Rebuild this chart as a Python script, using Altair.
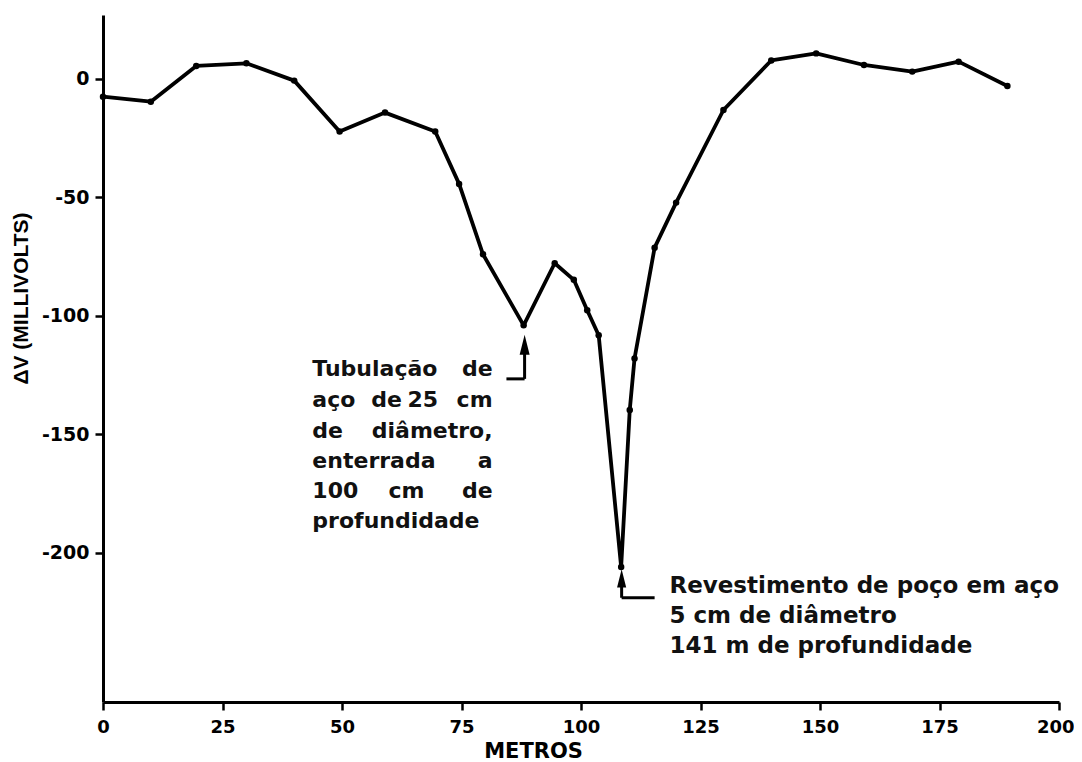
import altair as alt
import pandas as pd

# ---- data ----
metros = [0, 10, 19.5, 30, 40, 49.5, 59, 69.5, 74.5, 79.5, 88, 94.5, 98.5, 101.3,
          103.7, 108.4, 110.2, 111.2, 115.4, 119.9, 129.8, 139.8, 149.2, 159.2,
          169.3, 179, 189.2]
delta_v = [-7.5, -9.6, 5.5, 6.6, -0.7, -22.2, -14.2, -22.2, -44.3, -74, -104, -77.8,
           -84.8, -97.6, -108.2, -206, -139.7, -118, -71.2, -52.2, -13.1, 7.8, 10.8,
           5.9, 3.1, 7.3, -3.0]

x_ticks = [0, 25, 50, 75, 100, 125, 150, 175, 200]
y_ticks = [0, -50, -100, -150, -200]

# annotation 1 (justified block), words anchored in data space
ann1_left_text = ["Tubulação", "aço", "de", "25", "de", "enterrada", "100", "profundidade"]
ann1_left_x = [43.8, 43.8, 56.1, 63.7, 43.8, 43.8, 43.8, 43.8]
ann1_left_y = [-125.3, -138.4, -138.4, -138.4, -151.5, -164.1, -176.8, -189.5]
ann1_right_text = ["de", "cm", "diâmetro,", "a", "de"]
ann1_right_x = [81.5, 81.5, 81.5, 81.5, 81.5]
ann1_right_y = [-125.3, -138.4, -151.5, -164.1, -176.8]
ann1_center_text = ["cm"]
ann1_center_x = [63.5]
ann1_center_y = [-176.8]

# annotation 2
ann2_text = ["Revestimento de poço em aço", "5 cm de diâmetro", "141 m de profundidade"]
ann2_x = [118.5, 118.5, 118.5]
ann2_y = [-216.9, -229.5, -242.2]

# arrow leader lines
rule_x = [88.2, 84.4, 108.5, 108.5]
rule_x2 = [88.2, 88.2, 108.5, 115.4]
rule_y = [-126.6, -126.6, -219, -219]
rule_y2 = [-113, -126.6, -212, -219]
head_x = [88.2, 108.5]
head_y = [-112.2, -210.8]
head_size = [400, 330]

df = pd.DataFrame({"x": metros, "y": delta_v, "i": list(range(len(metros)))})

xs = alt.Scale(domain=[0, 200], nice=False, zero=False)
ys = alt.Scale(domain=[-263, 27], nice=False, zero=False)

x_axis = alt.Axis(
    values=x_ticks, title="METROS", grid=False,
    titleFont="DejaVu Sans", titleFontSize=21, titleFontWeight="bold", titleColor="black",
    titleX=430, titleY=55, titleBaseline="alphabetic", titleAlign="center",
    labelFont="DejaVu Sans", labelFontSize=18, labelFontWeight="bold", labelColor="black",
    labelPadding=8, labelFlush=False,
    labelAlign={"condition": {"test": "datum.value === 200", "value": "right"}, "value": "center"},
    labelOffset={"condition": {"test": "datum.value === 200", "value": 15}, "value": 0},
    tickColor="black", tickSize=8, tickWidth=2.5,
    domainColor="black", domainWidth=3,
)
y_axis = alt.Axis(
    values=y_ticks, title="ΔV (MILLIVOLTS)", grid=False,
    titleFont="Liberation Sans", titleFontSize=21, titleFontWeight="bold", titleColor="black",
    titleAngle=270, titleX=-82, titleY=283, titleAlign="center", titleBaseline="middle",
    labelFont="DejaVu Sans", labelFontSize=19, labelFontWeight="bold", labelColor="black",
    labelPadding=6, labelExpr="'' + datum.value",
    tickColor="black", tickSize=8, tickWidth=2.5,
    domainColor="black", domainWidth=3,
)


def X():
    return alt.X("x:Q", scale=xs, axis=x_axis, title="METROS")


def Y():
    return alt.Y("y:Q", scale=ys, axis=y_axis, title="ΔV (MILLIVOLTS)")


line = alt.Chart(df).mark_line(color="black", strokeWidth=3.8, strokeJoin="round").encode(
    x=X(), y=Y(), order="i:Q",
)
pts = alt.Chart(df).mark_circle(color="black", size=42, opacity=1).encode(x=X(), y=Y())

rules_df = pd.DataFrame({"x": rule_x, "x2": rule_x2, "y": rule_y, "y2": rule_y2})
rules = alt.Chart(rules_df).mark_rule(color="black", strokeWidth=3).encode(
    x=X(), x2="x2:Q", y=Y(), y2="y2:Q",
)
heads_df = pd.DataFrame({"x": head_x, "y": head_y, "s": head_size})
heads = alt.Chart(heads_df).mark_point(
    shape="M0,-1L0.5,1L-0.5,1Z", filled=True, color="black", opacity=1, strokeWidth=0
).encode(
    x=X(), y=Y(),
    size=alt.Size("s:Q", scale=None, legend=None),
)


def text_layer(texts, xv, yv, align, size):
    d = pd.DataFrame({"x": xv, "y": yv, "t": texts})
    return alt.Chart(d).mark_text(
        align=align, baseline="alphabetic", font="DejaVu Sans", fontWeight="bold",
        fontSize=size, color="#111111",
    ).encode(x=X(), y=Y(), text="t:N")


t1 = text_layer(ann1_left_text, ann1_left_x, ann1_left_y, "left", 22)
t2 = text_layer(ann1_right_text, ann1_right_x, ann1_right_y, "right", 22)
t3 = text_layer(ann1_center_text, ann1_center_x, ann1_center_y, "center", 22)
t4 = text_layer(ann2_text, ann2_x, ann2_y, "left", 23)

chart = alt.layer(line, pts, rules, heads, t1, t2, t3, t4).properties(
    width=956, height=687,
    autosize=alt.AutoSizeParams(type="none"),
    padding={"left": 95, "top": 7, "right": 15, "bottom": 60},
    background="white",
).configure_view(stroke=None)

chart.save("out.html", embed_options={"renderer": "svg", "actions": False})
